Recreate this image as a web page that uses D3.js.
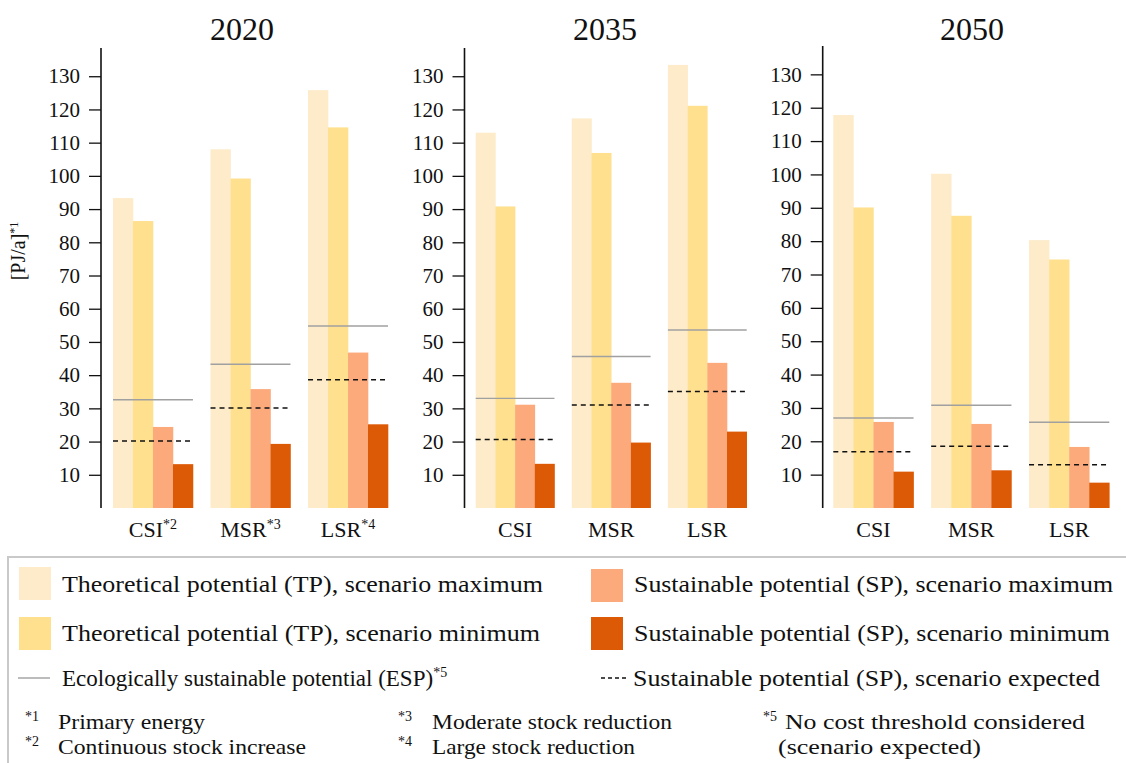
<!DOCTYPE html>
<html>
<head>
<meta charset="utf-8">
<script src="https://cdn.jsdelivr.net/npm/d3@7"></script>
<style>
  html, body { margin: 0; padding: 0; background: #fff; }
  svg { display: block; }
</style>
</head>
<body>
<svg id="chart" width="1126" height="763"></svg>
<script>
// ---------------- DATA ----------------
const years = ["2020", "2035", "2050"];
const categories = ["CSI", "MSR", "LSR"];
const categoryNotes = [["*2", "*3", "*4"], ["", "", ""], ["", "", ""]];
const seriesKeys = ["tpMax", "tpMin", "spMax", "spMin"];
const seriesLabels = [
  "Theoretical potential (TP), scenario maximum",
  "Theoretical potential (TP), scenario minimum",
  "Sustainable potential (SP), scenario maximum",
  "Sustainable potential (SP), scenario minimum"
];
const lineLabels = [
  "Ecologically sustainable potential (ESP)",
  "Sustainable potential (SP), scenario expected"
];
const lineLabelNotes = ["*5", ""];
const yTicks = [10, 20, 30, 40, 50, 60, 70, 80, 90, 100, 110, 120, 130];
const yLabel = "[PJ/a]";
const yLabelNote = "*1";

// 2020
const tpMax2020 = [93.3, 108.0, 125.8];
const tpMin2020 = [86.4, 99.2, 114.6];
const spMax2020 = [24.4, 35.8, 46.8];
const spMin2020 = [13.2, 19.3, 25.2];
const esp2020   = [32.6, 43.3, 54.8];
const spExp2020 = [20.2, 30.1, 38.6];
// 2035
const tpMax2035 = [113.0, 117.3, 133.4];
const tpMin2035 = [90.8, 106.9, 121.1];
const spMax2035 = [31.1, 37.7, 43.7];
const spMin2035 = [13.3, 19.7, 23.0];
const esp2035   = [33.0, 45.6, 53.6];
const spExp2035 = [20.6, 31.0, 35.1];
// 2050
const tpMax2050 = [117.8, 100.2, 80.3];
const tpMin2050 = [90.1, 87.6, 74.5];
const spMax2050 = [25.8, 25.2, 18.3];
const spMin2050 = [10.9, 11.3, 7.6];
const esp2050   = [27.0, 30.8, 25.7];
const spExp2050 = [16.9, 18.5, 13.0];

const footnoteMarks = ["*1", "*2", "*3", "*4", "*5"];
const footnoteTexts = [
  ["Primary energy"],
  ["Continuous stock increase"],
  ["Moderate stock reduction"],
  ["Large stock reduction"],
  ["No cost threshold considered", "(scenario expected)"]
];

// ---------------- BUILD TABLES ----------------
const panelData = [
  { tpMax: tpMax2020, tpMin: tpMin2020, spMax: spMax2020, spMin: spMin2020, esp: esp2020, spExp: spExp2020 },
  { tpMax: tpMax2035, tpMin: tpMin2035, spMax: spMax2035, spMin: spMin2035, esp: esp2035, spExp: spExp2035 },
  { tpMax: tpMax2050, tpMin: tpMin2050, spMax: spMax2050, spMin: spMin2050, esp: esp2050, spExp: spExp2050 }
];

// ---------------- STYLE / LAYOUT ----------------
const FONT = "'Liberation Serif', 'DejaVu Serif', serif";
const colors = { tpMax: "#fdebc9", tpMin: "#fee08f", spMax: "#fcaa7c", spMin: "#dc5a06" };
const espColor = "#a0a0a0";
const layout = [
  { axisX: 101,   groups: [113, 388],     yRange: [508, 48], titleX: 242 },
  { axisX: 464.5, groups: [475.7, 746.7], yRange: [508, 48], titleX: 605 },
  { axisX: 822.7, groups: [833.3, 1109.3], yRange: [508, 46], titleX: 972 }
];

const svg = d3.select("#chart").attr("font-family", FONT);

layout.forEach((L, p) => {
  const d = panelData[p];
  const g = svg.append("g");
  const y = d3.scaleLinear().domain([0, 138.5]).range(L.yRange);
  const x = d3.scaleBand().domain(categories).range(L.groups).paddingInner(0.18).paddingOuter(0);
  const xs = d3.scaleBand().domain(seriesKeys).range([0, x.bandwidth()]).padding(0);

  // title
  g.append("text").attr("x", L.titleX).attr("y", 40).attr("text-anchor", "middle")
    .attr("font-family", FONT).attr("font-size", 32).attr("fill", "#111").text(years[p]);

  // bars
  categories.forEach((c, i) => {
    seriesKeys.forEach(k => {
      g.append("rect")
        .attr("x", x(c) + xs(k))
        .attr("width", xs.bandwidth() + 0.3)
        .attr("y", y(d[k][i]))
        .attr("height", y(0) - y(d[k][i]))
        .attr("fill", colors[k]);
    });
    // ESP line
    g.append("line")
      .attr("x1", x(c)).attr("x2", x(c) + x.bandwidth())
      .attr("y1", y(d.esp[i])).attr("y2", y(d.esp[i]))
      .attr("stroke", espColor).attr("stroke-width", 1.4);
    // expected SP dashed line
    g.append("line")
      .attr("x1", x(c)).attr("x2", x(c) + x.bandwidth())
      .attr("y1", y(d.spExp[i])).attr("y2", y(d.spExp[i]))
      .attr("stroke", "#111").attr("stroke-width", 1.5)
      .attr("stroke-dasharray", "5,4");
    // category label
    const t = g.append("text")
      .attr("x", x(c) + x.bandwidth() / 2)
      .attr("y", 537).attr("text-anchor", "middle")
      .attr("font-family", FONT).attr("font-size", 22).attr("fill", "#111");
    t.append("tspan").text(c);
    if (categoryNotes[p][i]) {
      t.append("tspan").attr("dy", -8).attr("font-size", 14).text(categoryNotes[p][i]);
    }
  });

  // axis
  const axis = d3.axisLeft(y).tickValues(yTicks).tickSize(12).tickSizeOuter(0).tickPadding(9);
  const ag = g.append("g").attr("transform", `translate(${L.axisX},0)`).call(axis)
    .attr("font-family", FONT).attr("font-size", 21);
  ag.select(".domain").attr("stroke", "#111").attr("stroke-width", 1.6).attr("d", `M0,${L.yRange[0]}V${L.yRange[1]}`);
  ag.selectAll(".tick line").attr("stroke", "#111").attr("stroke-width", 1.3);
  ag.selectAll(".tick text").attr("font-family", FONT).attr("font-size", 21).attr("fill", "#111");
});

// y label
const yl = svg.append("text")
  .attr("transform", "translate(25,251) rotate(-90)")
  .attr("text-anchor", "middle").attr("font-family", FONT).attr("font-size", 20).attr("fill", "#111");
yl.append("tspan").text(yLabel);
yl.append("tspan").attr("dy", -7).attr("font-size", 12).text(yLabelNote);

// ---------------- LEGEND ----------------
const lg = svg.append("g").attr("font-family", FONT).attr("fill", "#111");
lg.append("path").attr("d", "M1130,557H8V770").attr("fill", "none").attr("stroke", "#c9c9c9").attr("stroke-width", 2);

const swatchPos = [
  { x: 19, y: 567, tx: 62, ty: 592, w: 481 },
  { x: 19, y: 617, tx: 62, ty: 641, w: 478 },
  { x: 591, y: 569, tx: 634, ty: 592, w: 479 },
  { x: 591, y: 617, tx: 634, ty: 641, w: 476 }
];
seriesKeys.forEach((k, i) => {
  const P = swatchPos[i];
  lg.append("rect").attr("x", P.x).attr("y", P.y).attr("width", 32).attr("height", 33).attr("fill", colors[k]);
  lg.append("text").attr("x", P.tx).attr("y", P.ty).attr("font-size", 24)
    .attr("textLength", P.w).attr("lengthAdjust", "spacingAndGlyphs").text(seriesLabels[i]);
});
// line legend: ESP (solid gray)
lg.append("line").attr("x1", 18).attr("x2", 50).attr("y1", 678).attr("y2", 678)
  .attr("stroke", espColor).attr("stroke-width", 1.4);
const espT = lg.append("text").attr("x", 62).attr("y", 686).attr("font-size", 23);
espT.append("tspan").text(lineLabels[0]);
espT.append("tspan").attr("dy", -9).attr("font-size", 14).text(lineLabelNotes[0]);
// line legend: SP expected (dashed)
lg.append("line").attr("x1", 601).attr("x2", 626).attr("y1", 678).attr("y2", 678)
  .attr("stroke", "#111").attr("stroke-width", 1.4).attr("stroke-dasharray", "4,3");
lg.append("text").attr("x", 633).attr("y", 686).attr("font-size", 24)
  .attr("textLength", 467).attr("lengthAdjust", "spacingAndGlyphs").text(lineLabels[1]);

// footnotes
const fnPos = [
  { mx: 25, tx: 58, y: 729, w: [147] },
  { mx: 25, tx: 58, y: 754, w: [248] },
  { mx: 398, tx: 432, y: 729, w: [240] },
  { mx: 398, tx: 432, y: 754, w: [203] },
  { mx: 763, tx: 785, y: 729, w: [300, 203], x2: 778 }
];
footnoteMarks.forEach((m, i) => {
  const P = fnPos[i];
  lg.append("text").attr("x", P.mx).attr("y", P.y - 8).attr("font-size", 14).text(m);
  footnoteTexts[i].forEach((s, j) => {
    lg.append("text").attr("x", j === 0 ? P.tx : P.x2).attr("y", P.y + j * 25).attr("font-size", 21)
      .attr("textLength", P.w[j]).attr("lengthAdjust", "spacingAndGlyphs").text(s);
  });
});
</script>
</body>
</html>
